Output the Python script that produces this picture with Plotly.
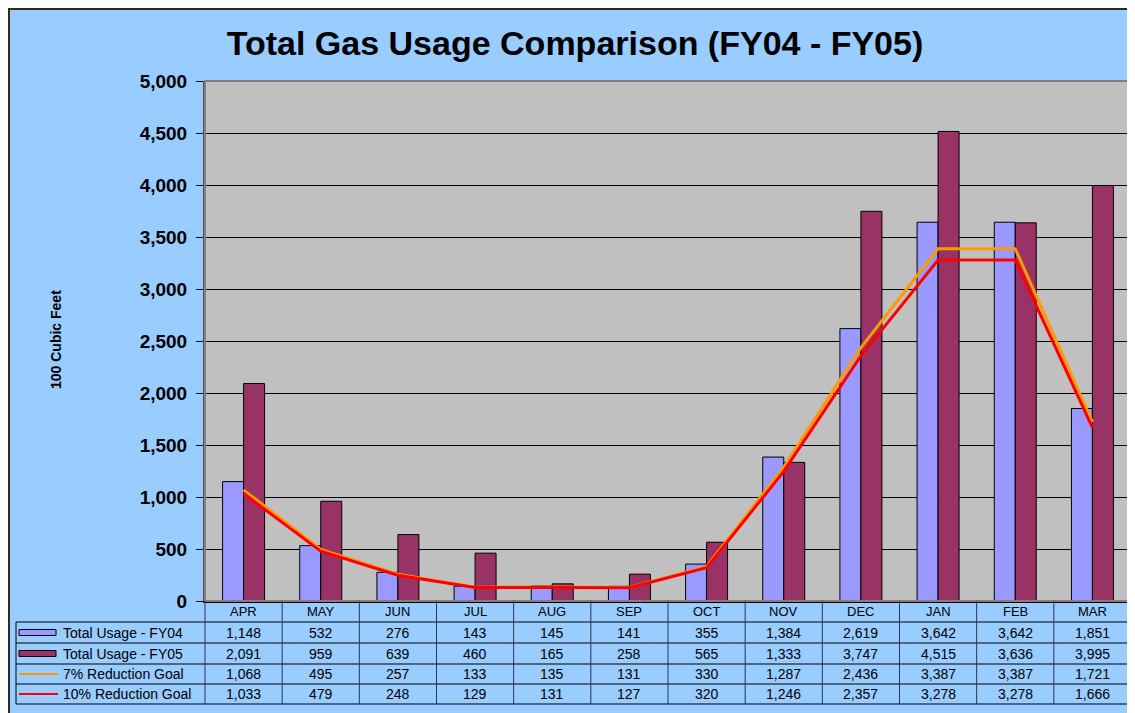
import plotly.graph_objects as go

months = ["APR", "MAY", "JUN", "JUL", "AUG", "SEP", "OCT", "NOV", "DEC", "JAN", "FEB", "MAR"]
fy04 = [1148, 532, 276, 143, 145, 141, 355, 1384, 2619, 3642, 3642, 1851]
fy05 = [2091, 959, 639, 460, 165, 258, 565, 1333, 3747, 4515, 3636, 3995]
goal7 = [1068, 495, 257, 133, 135, 131, 330, 1287, 2436, 3387, 3387, 1721]
goal10 = [1033, 479, 248, 129, 131, 127, 320, 1246, 2357, 3278, 3278, 1666]
series_names = ["Total Usage - FY04", "Total Usage - FY05", "7% Reduction Goal", "10% Reduction Goal"]
series_values = [fy04, fy05, goal7, goal10]
y_ticks = list(range(0, 5001, 500))

W, H = 1135, 713
OFF = 8  # page body margin
# desired screen positions of the plot area
SX0, SX1, SY0, SY1 = 205, 1131, 81, 601
L, T = SX0 - OFF, SY0 - OFF
R = W - (SX1 - OFF)
B = H - (SY1 - OFF)
PW, PH = SX1 - SX0, SY1 - SY0
FONT = "Arial, Liberation Sans, sans-serif"

def px_x(p):
    return (p - SX0) / PW

def px_y(p):
    return (SY1 - p) / PH

fig = go.Figure()
fig.add_bar(x=months, y=fy04, name=series_names[0],
            marker=dict(color="#9999FF", line=dict(color="black", width=1)))
fig.add_bar(x=months, y=fy05, name=series_names[1],
            marker=dict(color="#993366", line=dict(color="black", width=1)))
fig.add_scatter(x=months, y=goal7, name=series_names[2], mode="lines",
                line=dict(color="#FF9900", width=3))
fig.add_scatter(x=months, y=goal10, name=series_names[3], mode="lines",
                line=dict(color="#FF0000", width=3))

shapes = []
annotations = []

# plot border
shapes.append(dict(type="rect", xref="paper", yref="paper", x0=0, x1=1, y0=0, y1=1,
                   line=dict(color="#808080", width=2), layer="above"))
# outer chart border (at the figure edge)
shapes.append(dict(type="rect", xref="paper", yref="paper",
                   x0=px_x(OFF + 1), x1=px_x(1150), y0=px_y(730), y1=px_y(OFF + 1),
                   line=dict(color="#2b2b2b", width=2), layer="above"))

# data table grid
row_lines = [622, 643, 664, 684, 704]
for ry in row_lines:
    shapes.append(dict(type="line", xref="paper", yref="paper",
                       x0=px_x(16), x1=1, y0=px_y(ry), y1=px_y(ry),
                       line=dict(color="black", width=1)))
n = len(months)
for k in range(n + 1):
    xp = k / n
    shapes.append(dict(type="line", xref="paper", yref="paper",
                       x0=xp, x1=xp, y0=px_y(601), y1=px_y(704),
                       line=dict(color="#2a3550", width=1)))
shapes.append(dict(type="line", xref="paper", yref="paper",
                   x0=px_x(16), x1=px_x(16), y0=px_y(622), y1=px_y(704),
                   line=dict(color="black", width=1)))

row_centers = [632.5, 653.5, 674, 694]
# month header
for m in months:
    annotations.append(dict(x=m, xref="x", y=px_y(611.5), yref="paper", text=m,
                            showarrow=False, font=dict(family=FONT, size=13, color="black"),
                            xanchor="center", yanchor="middle"))
# values
for vals, rc in zip(series_values, row_centers):
    for m, v in zip(months, vals):
        annotations.append(dict(x=m, xref="x", y=px_y(rc), yref="paper", text=f"{v:,}",
                                showarrow=False, font=dict(family=FONT, size=14, color="black"),
                                xanchor="center", yanchor="middle"))
# legend keys
for name, rc in zip(series_names, row_centers):
    annotations.append(dict(x=px_x(61), xref="paper", y=px_y(rc), yref="paper", text=name,
                            showarrow=False, font=dict(family=FONT, size=14, color="black"),
                            xanchor="left", yanchor="middle"))
shapes.append(dict(type="rect", xref="paper", yref="paper", x0=px_x(19), x1=px_x(56),
                   y0=px_y(row_centers[0] + 3), y1=px_y(row_centers[0] - 3),
                   fillcolor="#9999FF", line=dict(color="black", width=1)))
shapes.append(dict(type="rect", xref="paper", yref="paper", x0=px_x(19), x1=px_x(56),
                   y0=px_y(row_centers[1] + 3), y1=px_y(row_centers[1] - 3),
                   fillcolor="#993366", line=dict(color="black", width=1)))
shapes.append(dict(type="line", xref="paper", yref="paper", x0=px_x(19), x1=px_x(58),
                   y0=px_y(row_centers[2]), y1=px_y(row_centers[2]),
                   line=dict(color="#FF9900", width=2)))
shapes.append(dict(type="line", xref="paper", yref="paper", x0=px_x(19), x1=px_x(58),
                   y0=px_y(row_centers[3]), y1=px_y(row_centers[3]),
                   line=dict(color="#FF0000", width=2)))

# y-axis title
annotations.append(dict(x=px_x(56), xref="paper", y=px_y(340), yref="paper",
                        text="<b>100 Cubic Feet</b>", textangle=-90, showarrow=False,
                        font=dict(family=FONT, size=14, color="black"),
                        xanchor="center", yanchor="middle"))

fig.update_layout(
    width=W, height=H, autosize=False,
    margin=dict(l=L, r=R, t=T, b=B, pad=0),
    paper_bgcolor="#99CCFF", plot_bgcolor="#C0C0C0",
    barmode="group", bargap=0.456, bargroupgap=0,
    showlegend=False, hovermode=False,
    title=dict(text="<b>Total Gas Usage Comparison (FY04 - FY05)</b>",
               x=(575 - OFF) / W, xref="container", xanchor="center",
               y=1 - (43 - OFF) / H, yref="container", yanchor="middle",
               font=dict(family=FONT, size=34, color="black")),
    xaxis=dict(range=[-0.5, n - 0.5], showticklabels=False, ticks="",
               showline=True, linecolor="black", linewidth=2, showgrid=False,
               zeroline=False),
    yaxis=dict(range=[0, 5000], tickvals=y_ticks, tickformat=",",
               showgrid=True, gridcolor="black", gridwidth=1,
               showline=True, linecolor="#505050", linewidth=2,
               ticks="outside", ticklen=7, tickcolor="black", tickwidth=1,
               ticklabelstandoff=5,
               tickfont=dict(family=FONT, size=19, color="black", weight="bold"),
               zeroline=False),
    shapes=shapes, annotations=annotations,
)

fig.write_html("out.html")
